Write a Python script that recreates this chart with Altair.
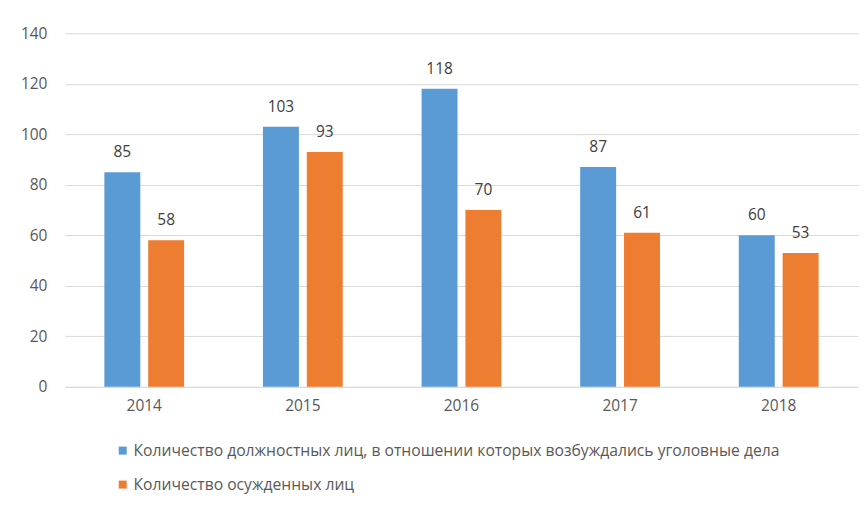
import altair as alt
import pandas as pd

years = ["2014", "2015", "2016", "2017", "2018"]
officials = [85, 103, 118, 87, 60]
convicted = [58, 93, 70, 61, 53]
series = [
    "Количество должностных лиц, в отношении которых возбуждались уголовные дела",
    "Количество осужденных лиц",
]
colors = ["#5B9BD5", "#ED7D31"]
y_ticks = [0, 20, 40, 60, 80, 100, 120, 140]

rows = []
for i, yr in enumerate(years):
    rows.append({"year": yr, "series": series[0], "value": officials[i]})
    rows.append({"year": yr, "series": series[1], "value": convicted[i]})
df = pd.DataFrame(rows)

FONT = "Open Sans"
FS = 15.5
LABEL_COLOR = "#595959"

x = alt.X(
    "year:N",
    sort=years,
    scale=alt.Scale(paddingInner=0.497, paddingOuter=0.2485),
    axis=alt.Axis(
        title=None, labelAngle=0, ticks=False, domainColor="#D9D9D9",
        labelPadding=12, labelFontSize=FS, labelColor=LABEL_COLOR, labelFont=FONT,
    ),
)
xo = alt.XOffset("series:N", sort=series, scale=alt.Scale(paddingInner=0.18, paddingOuter=0))
y = alt.Y(
    "value:Q",
    scale=alt.Scale(domain=[0, 140], nice=False),
    axis=alt.Axis(
        title=None, values=y_ticks, ticks=False, domain=False, gridColor="#D9D9D9",
        labelPadding=18, labelFontSize=FS, labelColor=LABEL_COLOR, labelFont=FONT,
    ),
)
color = alt.Color(
    "series:N",
    sort=series,
    scale=alt.Scale(domain=series, range=colors),
    legend=alt.Legend(
        title=None, orient="none", legendX=50, legendY=410, direction="vertical",
        symbolType="square", symbolSize=64, symbolStrokeWidth=0,
        labelFontSize=15.7, labelFont=FONT, labelColor=LABEL_COLOR,
        labelLimit=1000, rowPadding=17, labelOffset=3,
    ),
)

bars = alt.Chart(df).mark_bar().encode(x=x, xOffset=xo, y=y, color=color)
labels = alt.Chart(df).mark_text(
    baseline="alphabetic", dy=-15, fontSize=FS, font=FONT, color="#404040"
).encode(x=x, xOffset=xo, y=y, text=alt.Text("value:Q"))

chart = (
    alt.layer(bars, labels)
    .properties(
        width=794, height=354,
        background="white",
        autosize=alt.AutoSizeParams(type="none"),
        padding={"left": 57, "top": 25, "right": 2, "bottom": 110},
    )
    .configure_view(stroke=None)
)

chart.save("out.html", embed_options={"renderer": "svg", "actions": False})
